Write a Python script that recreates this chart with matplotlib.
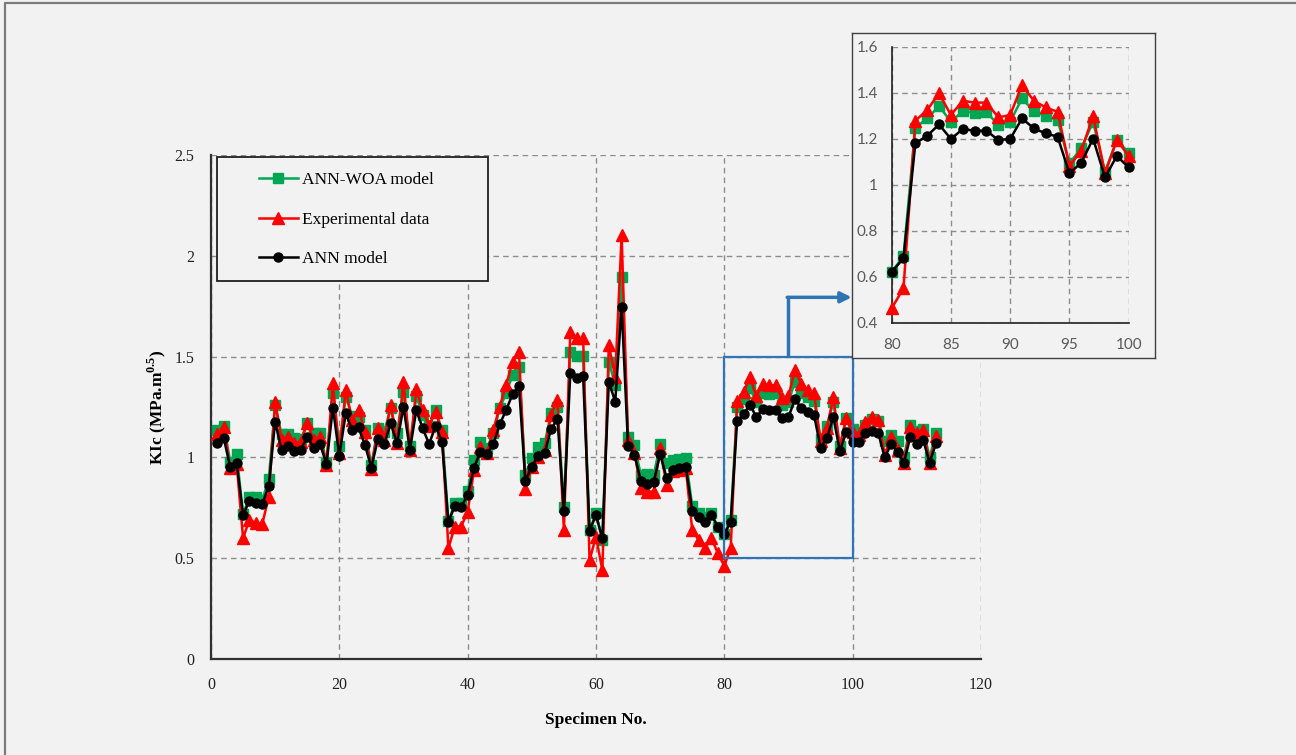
import matplotlib
matplotlib.use("Agg")
import matplotlib.pyplot as plt
from matplotlib.patches import Rectangle
from matplotlib.lines import Line2D
from matplotlib.ticker import FuncFormatter

specimen = list(range(1, 114))

ann_woa = [1.135, 1.156, 0.979, 1.015, 0.72, 0.805, 0.805, 0.79, 0.891, 1.26,
           1.114, 1.114, 1.095, 1.09, 1.169, 1.123, 1.123, 0.973, 1.321, 1.057,
           1.301, 1.205, 1.199, 1.136, 0.962, 1.144, 1.128, 1.243, 1.123, 1.326,
           1.057, 1.304, 1.21, 1.156, 1.235, 1.136, 0.682, 0.772, 0.772, 0.833,
           0.987, 1.078, 1.045, 1.12, 1.243, 1.318, 1.409, 1.45, 0.913, 0.995,
           1.053, 1.069, 1.219, 1.252, 0.756, 1.525, 1.503, 1.503, 0.64, 0.723,
           0.59, 1.475, 1.359, 1.893, 1.103, 1.061, 0.912, 0.917, 0.912, 1.066,
           0.974, 0.987, 0.99, 0.995, 0.759, 0.722, 0.706, 0.722, 0.656, 0.62,
           0.69, 1.248, 1.288, 1.342, 1.274, 1.32, 1.313, 1.317, 1.259, 1.274,
           1.375, 1.32, 1.299, 1.281, 1.093, 1.158, 1.274, 1.057, 1.194, 1.139,
           1.11, 1.16, 1.19, 1.18, 1.08, 1.11, 1.08, 1.0, 1.16, 1.13,
           1.14, 1.0, 1.12]

experimental = [1.114, 1.152, 0.946, 0.967, 0.6, 0.69, 0.674, 0.67, 0.805, 1.277,
                1.087, 1.103, 1.07, 1.078, 1.169, 1.087, 1.103, 0.962, 1.37, 1.02,
                1.335, 1.186, 1.235, 1.128, 0.94, 1.144, 1.087, 1.26, 1.07, 1.376,
                1.037, 1.337, 1.235, 1.156, 1.227, 1.128, 0.549, 0.657, 0.657, 0.731,
                0.938, 1.053, 1.02, 1.136, 1.252, 1.359, 1.475, 1.525, 0.842, 0.954,
                1.003, 1.036, 1.21, 1.285, 0.64, 1.624, 1.59, 1.59, 0.49, 0.607,
                0.44, 1.557, 1.40, 2.103, 1.086, 1.02, 0.847, 0.83, 0.83, 1.045,
                0.863, 0.93, 0.938, 0.946, 0.64, 0.59, 0.549, 0.599, 0.524, 0.462,
                0.55, 1.278, 1.325, 1.397, 1.303, 1.365, 1.357, 1.357, 1.293, 1.303,
                1.433, 1.365, 1.336, 1.317, 1.081, 1.148, 1.299, 1.049, 1.194, 1.125,
                1.11, 1.177, 1.202, 1.186, 1.012, 1.103, 1.037, 0.971, 1.152, 1.119,
                1.136, 0.974, 1.106]

ann = [1.07, 1.095, 0.95, 0.973, 0.714, 0.784, 0.775, 0.769, 0.858, 1.177,
       1.037, 1.057, 1.032, 1.037, 1.103, 1.048, 1.065, 0.967, 1.247, 1.009,
       1.219, 1.136, 1.149, 1.061, 0.949, 1.09, 1.065, 1.169, 1.07, 1.252,
       1.037, 1.235, 1.144, 1.066, 1.157, 1.078, 0.678, 0.76, 0.755, 0.813,
       0.949, 1.028, 1.017, 1.065, 1.164, 1.235, 1.313, 1.354, 0.883, 0.954,
       1.007, 1.02, 1.141, 1.189, 0.736, 1.42, 1.392, 1.404, 0.635, 0.714,
       0.598, 1.376, 1.276, 1.748, 1.058, 1.012, 0.885, 0.868, 0.88, 1.015,
       0.9, 0.938, 0.946, 0.954, 0.736, 0.706, 0.681, 0.714, 0.656, 0.62,
       0.68, 1.18, 1.213, 1.262, 1.199, 1.242, 1.235, 1.235, 1.194, 1.199,
       1.288, 1.245, 1.223, 1.209, 1.049, 1.096, 1.20, 1.032, 1.125, 1.075,
       1.078, 1.123, 1.131, 1.12, 1.0, 1.065, 1.028, 0.974, 1.103, 1.065,
       1.086, 0.974, 1.07]

labels = ["ANN-WOA model", "Experimental data", "ANN model"]
main_xticks = [0, 20, 40, 60, 80, 100, 120]
main_yticks = [0, 0.5, 1, 1.5, 2, 2.5]
inset_xticks = [80, 85, 90, 95, 100]
inset_yticks = [0.4, 0.6, 0.8, 1.0, 1.2, 1.4, 1.6]
zoom_range = (80, 100)
zoom_yrange = (0.5, 1.5)

BG = "#f2f2f2"
GREEN = "#00a651"
RED = "#ff0000"
BLACK = "#000000"
BLUE = "#2e75b6"
GRID = "#8c8c8c"

plt.rcParams["font.family"] = ["Liberation Serif", "DejaVu Serif"]
plt.rcParams["mathtext.fontset"] = "custom"
plt.rcParams["mathtext.rm"] = "Liberation Serif"
plt.rcParams["mathtext.bf"] = "Liberation Serif:bold"

fig = plt.figure(figsize=(12.96, 7.55), dpi=100, facecolor=BG)
# partial outer frame (top and left edges only)
fig.lines.append(Line2D([0.0035, 0.0035, 1.0], [0.0, 0.9955, 0.9955],
                        transform=fig.transFigure, color="#7a7a7a", lw=1.6))

ax = fig.add_axes([0.1628, 0.1272, 0.5941, 0.6675], facecolor=BG)

def draw_series(a, sl=slice(None), clip=True):
    a.plot(specimen[sl], ann_woa[sl], color=GREEN, marker="s", ms=7, lw=1.8,
           label=labels[0], zorder=3, clip_on=clip)
    a.plot(specimen[sl], experimental[sl], color=RED, marker="^", ms=8.5, lw=1.8,
           label=labels[1], zorder=4, clip_on=clip)
    a.plot(specimen[sl], ann[sl], color=BLACK, marker="o", ms=6.5, lw=1.8,
           label=labels[2], zorder=5, clip_on=clip)

draw_series(ax)
ax.set_xlim(0, 120)
ax.set_ylim(0, 2.5)
ax.set_xticks(main_xticks)
ax.set_yticks(main_yticks)
ax.yaxis.set_major_formatter(FuncFormatter(lambda v, p: "%g" % v))
ax.grid(True, color=GRID, linestyle=(0, (4, 3)), lw=1.0, zorder=0)
ax.set_axisbelow(True)
for s in ["top", "right"]:
    ax.spines[s].set_visible(False)
for s in ["left", "bottom"]:
    ax.spines[s].set_color("#303030")
    ax.spines[s].set_linewidth(1.6)
ax.tick_params(length=0, labelsize=11.5, colors="#202020")
ax.tick_params(axis="x", pad=13)
ax.tick_params(axis="y", pad=12)
ax.set_xlabel("Specimen No.", fontsize=12.5, fontweight="bold", labelpad=14)
ax.set_ylabel(r"KIc (MPa.m$^{\mathbf{0.5}}$)", fontsize=12.5, fontweight="bold", labelpad=5)

# legend box
ax.add_patch(Rectangle((0.0078, 0.75), 0.352, 0.246, transform=ax.transAxes,
                       facecolor=BG, edgecolor="#202020", lw=1.3, zorder=6))
leg = ax.legend(loc="center left", bbox_to_anchor=(0.062, 0.872), frameon=False,
                fontsize=12.5, handlelength=2.25, handletextpad=0.25,
                labelspacing=1.35, borderpad=0, borderaxespad=0)
leg.set_zorder(7)

# zoom rectangle and arrow
ax.add_patch(Rectangle((zoom_range[0], zoom_yrange[0]), zoom_range[1] - zoom_range[0],
                       zoom_yrange[1] - zoom_yrange[0], fill=False, edgecolor=BLUE,
                       lw=1.6, zorder=6))
ax.plot([90, 90], [1.5, 1.794], color=BLUE, lw=2.5, zorder=6, solid_capstyle="butt")
ax.annotate("", xy=(99.85, 1.794), xytext=(89.8, 1.794),
            arrowprops=dict(arrowstyle="-|>", color=BLUE, lw=2.5, mutation_scale=16,
                            shrinkA=0, shrinkB=0), zorder=6)

# inset frame
box = fig.add_axes([0.6572, 0.5254, 0.234, 0.4305], facecolor=BG)
box.set_xticks([])
box.set_yticks([])
for s in box.spines.values():
    s.set_color("#404040")
    s.set_linewidth(1.0)

ins = fig.add_axes([0.688, 0.5726, 0.1829, 0.3655], facecolor=BG)
i0 = specimen.index(zoom_range[0])
i1 = specimen.index(zoom_range[1]) + 1
draw_series(ins, slice(i0, i1), clip=False)
ins.set_xlim(*zoom_range)
ins.set_ylim(0.4, 1.6)
ins.set_xticks(inset_xticks)
ins.set_yticks(inset_yticks)
ins.yaxis.set_major_formatter(FuncFormatter(lambda v, p: "%g" % round(v, 1)))
ins.grid(True, color=GRID, linestyle=(0, (4, 3)), lw=1.0, zorder=0)
ins.set_axisbelow(True)
for s in ["top", "right"]:
    ins.spines[s].set_visible(False)
for s in ["left", "bottom"]:
    ins.spines[s].set_color("#202020")
    ins.spines[s].set_linewidth(1.2)
ins.tick_params(length=0, labelsize=11, colors="#595959")
ins.tick_params(axis="x", pad=11)
ins.tick_params(axis="y", pad=10)
for t in ins.get_xticklabels() + ins.get_yticklabels():
    t.set_fontfamily(["Lato", "DejaVu Sans"])

fig.savefig("out.png", dpi=100, facecolor=BG)
